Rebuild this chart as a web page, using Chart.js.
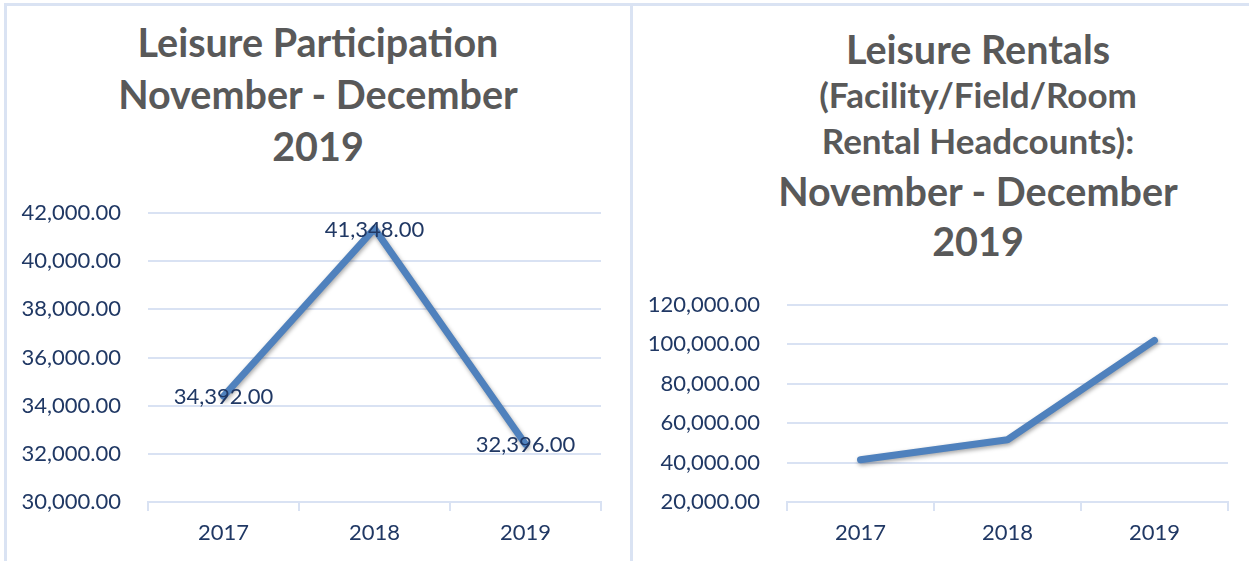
<!DOCTYPE html>
<html>
<head>
<meta charset="utf-8">
<script src="https://cdn.jsdelivr.net/npm/chart.js@4"></script>
<style>
body { margin:0; background:#fff; width:1249px; height:561px; position:relative; overflow:hidden; font-family:Lato, sans-serif; }
.panel { position:absolute; top:3px; bottom:0; border-left:3px solid #dae3f3; border-top:3px solid #dae3f3; }
.title { position:absolute; text-align:center; color:#595959; font-weight:bold; white-space:nowrap; }
.title div { line-height:1; }
canvas { position:absolute; }
</style>
</head>
<body>
<div class="panel" style="left:4px; width:624px;"></div>
<div class="panel" style="left:630px; right:0;"></div>

<div class="title" style="left:0; width:636px; top:22px;">
  <div style="font-size:39.5px; height:52px;">Leisure Participation</div>
  <div style="font-size:39.5px; height:52px;">November - December</div>
  <div style="font-size:39.5px; height:52px;">2019</div>
</div>

<div class="title" style="left:706px; width:544px; top:29px;">
  <div style="font-size:39.5px; height:48px;">Leisure Rentals</div>
  <div style="font-size:35px; height:46px;">(Facility/Field/Room</div>
  <div style="font-size:35px; height:48px;">Rental Headcounts):</div>
  <div style="font-size:39.5px; height:50px;">November - December</div>
  <div style="font-size:39.5px; height:50px;">2019</div>
</div>

<canvas id="partChart" style="left:0; top:150px;" width="630" height="411"></canvas>
<canvas id="rentChart" style="left:633px; top:250px;" width="616" height="311"></canvas>

<script>
// years on the x axis (both charts)
const years = ['2017', '2018', '2019'];

// Leisure participation, Nov-Dec
const participation = [34392, 41348, 32396];
const partMin = 30000, partMax = 42000, partStep = 2000;

// Leisure rentals headcounts, Nov-Dec
const rentals = [41400, 51600, 102000];
const rentMin = 20000, rentMax = 120000, rentStep = 20000;

const navy = '#203864';
const lineBlue = '#4f81bd';
const gridBlue = '#d9e2f3';

function money(v)
{
    return Number(v).toLocaleString('en-US', {minimumFractionDigits: 2, maximumFractionDigits: 2});
}

// soft shadow under the line, like the office chart
const lineShadow = {
    id: 'lineShadow',
    beforeDatasetDraw(chart) {
        const ctx = chart.ctx;
        ctx.save();
        ctx.shadowColor = 'rgba(0,0,0,0.35)';
        ctx.shadowBlur = 4;
        ctx.shadowOffsetX = 1;
        ctx.shadowOffsetY = 2;
    },
    afterDatasetDraw(chart) {
        chart.ctx.restore();
    }
};

// value labels centred on the points
const pointLabels = {
    id: 'pointLabels',
    afterDatasetsDraw(chart, args, opts) {
        if (!opts.show) return;
        const ctx = chart.ctx;
        const meta = chart.getDatasetMeta(0);
        const values = chart.data.datasets[0].data;
        ctx.save();
        ctx.font = '22px Lato';
        ctx.fillStyle = navy;
        ctx.textAlign = 'center';
        ctx.textBaseline = 'middle';
        meta.data.forEach(function (pt, i) {
            ctx.fillText(money(values[i]), pt.x, pt.y + 1);
        });
        ctx.restore();
    }
};

function makeChart(id, values, min, max, step, yWidth, pad, showLabels)
{
    const ctx = document.getElementById(id).getContext('2d');
    return new Chart(ctx, {
        type: 'line',
        data: {
            labels: years,
            datasets: [{
                data: values,
                borderColor: lineBlue,
                borderWidth: 7,
                pointRadius: 0,
                tension: 0,
                borderCapStyle: 'round',
                borderJoinStyle: 'round'
            }]
        },
        options: {
            responsive: false,
            animation: false,
            layout: { padding: pad },
            plugins: {
                legend: { display: false },
                tooltip: { enabled: false },
                pointLabels: { show: showLabels }
            },
            scales: {
                x: {
                    offset: true,
                    afterFit: function (scale) { scale.height = 59; },
                    grid: {
                        offset: true,
                        drawOnChartArea: false,
                        tickLength: 9,
                        color: gridBlue,
                        lineWidth: 2
                    },
                    border: { color: gridBlue, width: 2 },
                    ticks: { color: navy, font: { family: 'Lato', size: 22 }, padding: 9 }
                },
                y: {
                    min: min,
                    max: max,
                    afterFit: function (scale) { scale.width = yWidth; },
                    grid: { color: gridBlue, lineWidth: 2, drawTicks: false },
                    border: { display: false },
                    ticks: {
                        stepSize: step,
                        color: navy,
                        padding: 27,
                        font: { family: 'Lato', size: 22 },
                        callback: function (v) { return money(v); }
                    }
                }
            }
        },
        plugins: [lineShadow, pointLabels]
    });
}

makeChart('partChart', participation, partMin, partMax, partStep, 148, {top: 63, right: 29, bottom: 0, left: 0}, true);
makeChart('rentChart', rentals, rentMin, rentMax, rentStep, 154, {top: 55, right: 21, bottom: 0, left: 0}, false);
</script>
</body>
</html>
